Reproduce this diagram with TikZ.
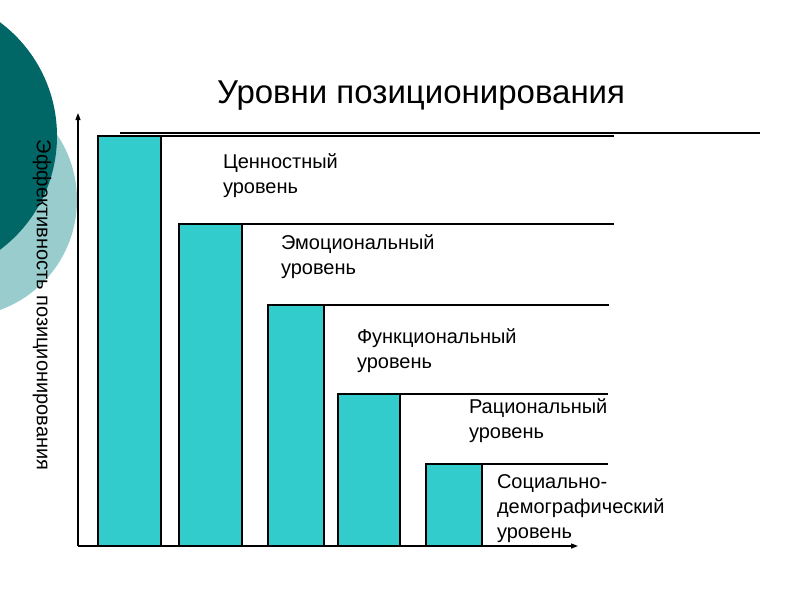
\documentclass[tikz,border=0pt]{standalone}
\usepackage{fontspec}
\setmainfont{Liberation Sans}
\usetikzlibrary{arrows.meta}
\definecolor{darkteal}{RGB}{0,102,102}
\definecolor{lightteal}{RGB}{153,204,204}
\definecolor{barfill}{RGB}{51,204,204}
\newcommand{\lvltext}[1]{\parbox[t]{6cm}{\raggedright\fontsize{20}{25}\selectfont #1}}
\begin{document}
\begin{tikzpicture}[x=1pt,y=-1pt,
  bar/.style={draw=black, line width=1.2pt, fill=barfill, anchor=south west, inner sep=0pt, outer sep=0pt},
  lvl/.style={anchor=base west, inner sep=0pt, outer sep=0pt},
  guide/.style={line width=1.2pt},
  axis/.style={line width=1.2pt, -{Triangle[length=7pt,width=5pt]}}]
\useasboundingbox (0,0) rectangle (800,600);
\begin{scope}
\clip (0,0) rectangle (800,600);
\fill[lightteal] (-40,200) circle[radius=117pt];
\fill[darkteal] (-85,136) circle[radius=142pt];
\end{scope}

% title
\node[lvl, font=\fontsize{33}{40}\selectfont] (title) at (217,103) {Уровни позиционирования};

% y label
\node[rotate=-90, inner sep=0pt, font=\fontsize{20}{24}\selectfont] (ylab) at (42,305) {Эффективность позиционирования};

% bars
\node[bar, minimum width=63pt, minimum height=410pt] (b1) at (98,546) {};
\node[bar, minimum width=63pt, minimum height=322pt] (b2) at (179,546) {};
\node[bar, minimum width=56pt, minimum height=241pt] (b3) at (268,546) {};
\node[bar, minimum width=62pt, minimum height=152pt] (b4) at (338,546) {};
\node[bar, minimum width=56pt, minimum height=82pt] (b5) at (426,546) {};

% guide lines
\coordinate (t0) at (120,133);
\coordinate (t1) at (760,133);
\draw[guide] (t0) -- (t1);
\coordinate (e1) at (614,136);
\coordinate (e2) at (614,224);
\coordinate (e3) at (609,305);
\coordinate (e4) at (608,394);
\coordinate (e5) at (608,464);
\draw[guide] (b1.north east) -- (e1);
\draw[guide] (b2.north east) -- (e2);
\draw[guide] (b3.north east) -- (e3);
\draw[guide] (b4.north east) -- (e4);
\draw[guide] (b5.north east) -- (e5);

% axes
\coordinate (O) at (78,546);
\coordinate (ytop) at (78,113);
\coordinate (xend) at (578,546);
\draw[axis] (O) -- (ytop);
\draw[axis] (O) -- (xend);

% labels
\node[lvl] (l1) at (223,168) {\lvltext{Ценностный\\уровень}};
\node[lvl] (l2) at (281,249) {\lvltext{Эмоциональный\\уровень}};
\node[lvl] (l3) at (357,343) {\lvltext{Функциональный\\уровень}};
\node[lvl] (l4) at (469,413) {\lvltext{Рациональный\\уровень}};
\node[lvl] (l5) at (497,488) {\lvltext{Социально-\\демографический\\уровень}};
\end{tikzpicture}
\end{document}
